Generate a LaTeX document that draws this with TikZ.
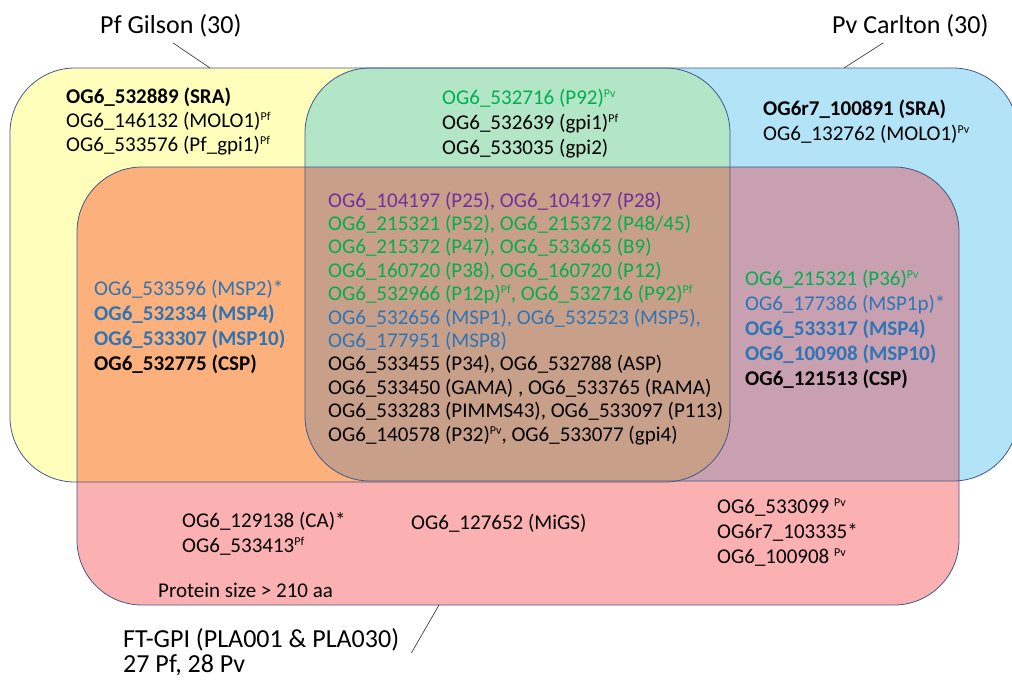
\documentclass[tikz,border=0pt]{standalone}
\usepackage{fontspec}
\setmainfont{Carlito}
\usepackage{tikz}
\usetikzlibrary{positioning, calc}
\definecolor{lineBlue}{HTML}{41588A}
\definecolor{pfYellow}{HTML}{FFFFBB}
\definecolor{pvBlue}{HTML}{B3E3F6}
\definecolor{bothGreen}{HTML}{B3E5C7}
\definecolor{pfOrange}{HTML}{FCB07C}
\definecolor{allBrown}{HTML}{C8A08A}
\definecolor{pvMauve}{HTML}{C9A0AF}
\definecolor{gpiPink}{HTML}{FBB1B1}
\definecolor{txtGreen}{HTML}{00B050}
\definecolor{txtPurple}{HTML}{7030A0}
\definecolor{txtBlue}{HTML}{2E75B6}

\newcommand{\spf}{\raisebox{0.33em}{\fontsize{12}{12}\selectfont Pf}}
\newcommand{\spv}{\raisebox{0.33em}{\fontsize{12}{12}\selectfont Pv}}

\begin{document}
\begin{tikzpicture}[x=1pt, y=-1pt,
    setbox/.style={rounded corners=65pt},
    edge/.style={draw=lineBlue, line width=0.8pt},
    genes/.style={anchor=north west, inner sep=0pt, align=left, execute at begin node=\strut},
    title/.style={anchor=base west, inner sep=0pt, font=\fontsize{26}{29}\selectfont},
    callout/.style={draw=black!75, line width=0.7pt}]
    \useasboundingbox (0,0) rectangle (1012,681);

    % Single sets
    \fill[pfYellow, setbox] (10,68) rectangle (730,482);
    \fill[pvBlue, setbox] (305,68) rectangle (1018,481);
    \fill[gpiPink, setbox] (77,167) rectangle (959,605);

    % Overlaps
    \begin{scope}
        \clip[setbox] (10,68) rectangle (730,482);
        \fill[bothGreen, setbox] (305,68) rectangle (1018,481);
        \fill[pfOrange, setbox] (77,167) rectangle (959,605);
    \end{scope}
    \begin{scope}
        \clip[setbox] (305,68) rectangle (1018,481);
        \fill[pvMauve, setbox] (77,167) rectangle (959,605);
        \clip[setbox] (10,68) rectangle (730,482);
        \fill[allBrown, setbox] (77,167) rectangle (959,605);
    \end{scope}

    % Outlines
    \draw[edge, setbox] (10,68) rectangle (730,482);
    \draw[edge, setbox] (305,68) rectangle (1018,481);
    \draw[edge, setbox] (77,167) rectangle (959,605);

    % Set titles
    \node[title] (pfTitle) at (100,33) {Pf Gilson (30)};
    \node[title] (pvTitle) at (832,33) {Pv Carlton (30)};
    \node[title] (gpiTitle) at (123,647) {FT-GPI (PLA001 \& PLA030)};
    \node[title] (gpiCount) at (123,672) {27 Pf, 28 Pv};

    \coordinate (pfTip) at (210,68);
    \coordinate (pvTip) at (844,68);
    \coordinate (gpiTip) at (439,605);
    \draw[callout] ([shift={(2,6)}]pfTitle.south) -- (pfTip);
    \draw[callout] ([shift={(-27,6)}]pvTitle.south) -- (pvTip);
    \draw[callout] ([shift={(12,6)}]gpiTitle.base east) -- (gpiTip);

    % Pf only
    \node[genes, font=\fontsize{21}{24}\selectfont] (pfOnly) at (66,88) {%
        \textbf{OG6\_532889 (SRA)}\\
        OG6\_146132 (MOLO1)\spf\\
        OG6\_533576 (Pf\_gpi1)\spf};

    % Pf and Pv
    \node[genes, font=\fontsize{21}{25}\selectfont] (pfPv) at (442,88.5) {%
        \textcolor{txtGreen}{OG6\_532716 (P92)\spv}\\
        OG6\_532639 (gpi1)\spf\\
        OG6\_533035 (gpi2)};

    % Pv only
    \node[genes, font=\fontsize{21}{25}\selectfont] (pvOnly) at (763,99.5) {%
        \textbf{OG6r7\_100891 (SRA)}\\
        OG6\_132762 (MOLO1)\spv};

    % All three
    \node[genes, font=\fontsize{21}{23.4}\selectfont] (allThree) at (328,191.6) {%
        \textcolor{txtPurple}{OG6\_104197 (P25), OG6\_104197 (P28)}\\
        \textcolor{txtGreen}{OG6\_215321 (P52), OG6\_215372 (P48/45)}\\
        \textcolor{txtGreen}{OG6\_215372 (P47), OG6\_533665 (B9)}\\
        \textcolor{txtGreen}{OG6\_160720 (P38), OG6\_160720 (P12)}\\
        \textcolor{txtGreen}{OG6\_532966 (P12p)\spf, OG6\_532716 (P92)\spf}\\
        \textcolor{txtBlue}{OG6\_532656 (MSP1), OG6\_532523 (MSP5),}\\
        \textcolor{txtBlue}{OG6\_177951 (MSP8)}\\
        OG6\_533455 (P34), OG6\_532788 (ASP)\\
        OG6\_533450 (GAMA) , OG6\_533765 (RAMA)\\
        OG6\_533283 (PIMMS43), OG6\_533097 (P113)\\
        OG6\_140578 (P32)\spv, OG6\_533077 (gpi4)};

    % Pf and FT-GPI
    \node[genes, font=\fontsize{21}{25}\selectfont] (pfGpi) at (94,279.5) {%
        \textcolor{txtBlue}{OG6\_533596 (MSP2)*}\\
        \textcolor{txtBlue}{\textbf{OG6\_532334 (MSP4)}}\\
        \textcolor{txtBlue}{\textbf{OG6\_533307 (MSP10)}}\\
        \textbf{OG6\_532775 (CSP)}};

    % Pv and FT-GPI
    \node[genes, font=\fontsize{21}{25}\selectfont] (pvGpi) at (745,269.5) {%
        \textcolor{txtGreen}{OG6\_215321 (P36)\spv}\\
        \textcolor{txtBlue}{OG6\_177386 (MSP1p)*}\\
        \textcolor{txtBlue}{\textbf{OG6\_533317 (MSP4)}}\\
        \textcolor{txtBlue}{\textbf{OG6\_100908 (MSP10)}}\\
        \textbf{OG6\_121513 (CSP)}};

    % FT-GPI only
    \node[genes, font=\fontsize{21}{25}\selectfont] (gpiLeft) at (182,511.5) {%
        OG6\_129138 (CA)*\\
        OG6\_533413\spf};
    \node[genes, font=\fontsize{21}{25}\selectfont] (gpiMid) at (411,511.5) {OG6\_127652 (MiGS)};
    \node[genes, font=\fontsize{21}{25}\selectfont] (gpiRight) at (717,498.5) {%
        OG6\_533099 \spv\\
        OG6r7\_103335*\\
        OG6\_100908 \spv};
    \node[genes, font=\fontsize{21}{25}\selectfont] (sizeNote) at (158,579.5) {Protein size > 210 aa};
\end{tikzpicture}
\end{document}
